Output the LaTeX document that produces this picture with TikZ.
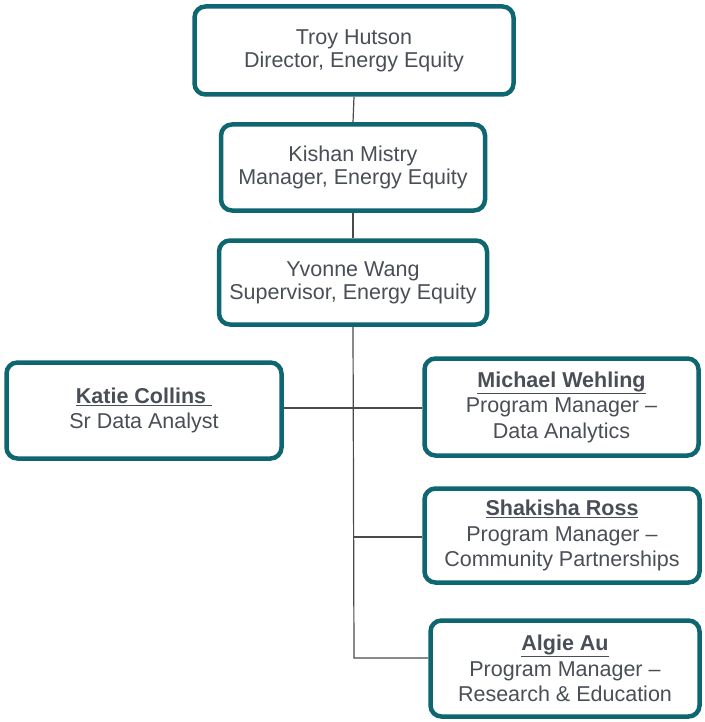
\documentclass[tikz,border=0pt]{standalone}
\usepackage{fontspec}
\setmainfont{Liberation Sans}
\definecolor{teal1}{HTML}{0E6670}
\definecolor{txt}{HTML}{4A4E57}
\definecolor{ln}{HTML}{4A4A4A}
\begin{document}
\begin{tikzpicture}[x=1pt,y=-1pt,
  box/.style={draw=teal1,line width=4.5pt,rounded corners=11pt,fill=white,align=center,
    text=txt,font=\fontsize{21.5}{23}\selectfont,inner sep=0pt},
  lowbox/.style={box,font=\fontsize{21.5}{25.5}\selectfont},
  conn/.style={draw=ln,line width=1.2pt}]
\useasboundingbox (0,0) rectangle (704,722);
\node[box,minimum width=319,minimum height=88] (troy) at (354,50.5) {Troy Hutson\\Director, Energy Equity};
\node[box,minimum width=264,minimum height=86] (kishan) at (353,167.5) {Kishan Mistry\\Manager, Energy Equity};
\node[box,minimum width=268,minimum height=84] (yvonne) at (353,282.5) {Yvonne Wang\\Supervisor, Energy Equity};
\node[lowbox,minimum width=275,minimum height=96] (katie) at (144,410.5) {\textbf{\underline{Katie Collins }}\\Sr Data Analyst};
\node[lowbox,minimum width=274,minimum height=97] (michael) at (561.5,407) {\textbf{\underline{Michael Wehling}}\\Program Manager –\\Data Analytics};
\node[lowbox,minimum width=275,minimum height=94] (shakisha) at (562,535.5) {\textbf{\underline{Shakisha Ross}}\\Program Manager –\\Community Partnerships};
\node[lowbox,minimum width=269,minimum height=96] (algie) at (565,668.5) {\textbf{\underline{Algie Au}}\\Program Manager –\\Research \& Education};
\coordinate (bend) at (354,658);
\coordinate (s1) at (354,537);
\path[conn] (troy.south) -- (kishan.north);
\path[conn] (kishan.south) -- (yvonne.north);
\path[conn] (yvonne.south) -- (bend) -- (algie.west |- bend);
\path[conn] (katie.east |- 0,408) -- (michael.west |- 0,408);
\path[conn] (s1) -- (shakisha.west |- s1);
\end{tikzpicture}
\end{document}
